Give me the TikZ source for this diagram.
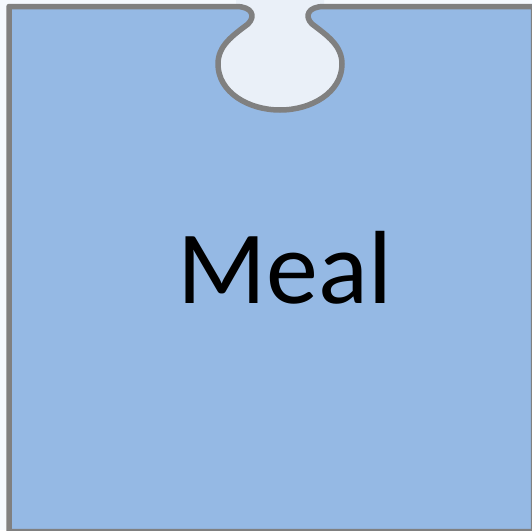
\documentclass[tikz,border=0pt]{standalone}
\usepackage{fontspec}
\setmainfont{Carlito}
\usepackage{xcolor}
\usepackage{tikz}

\definecolor{pieceblue}{RGB}{149,185,228}
\definecolor{edgegray}{RGB}{128,128,128}
\definecolor{holefill}{RGB}{234,240,248}
\definecolor{pagefill}{RGB}{245,249,254}

\begin{document}
\begin{tikzpicture}[
      x=1pt,y=-1pt,
      piece/.style={draw=edgegray,line width=5.5pt,fill=pieceblue,line join=round},
      hole/.style={fill=holefill},
      label/.style={font=\fontsize{104}{114}\selectfont,text=black,anchor=base,inner sep=0pt}
    ]
      \useasboundingbox (0,0) rectangle (532,530);
      \fill[pagefill] (0,0) rectangle (532,530);

      % notch of the puzzle piece
      \fill[hole] (236,0) -- (236,6.5) .. controls (252,6.5) and (256,16) .. (248,24)
        .. controls (232,36) and (218,46) .. (218,64)
        .. controls (218,92) and (248,110) .. (280,110)
        .. controls (312,110) and (342,92) .. (342,64)
        .. controls (342,46) and (328,36) .. (312,24)
        .. controls (304,16) and (308,6.5) .. (324,6.5) -- (324,0) -- cycle;

      % the piece itself
      \draw[piece] (9,531.5) -- (9,6.5) -- (236,6.5)
        .. controls (252,6.5) and (256,16) .. (248,24)
        .. controls (232,36) and (218,46) .. (218,64)
        .. controls (218,92) and (248,110) .. (280,110)
        .. controls (312,110) and (342,92) .. (342,64)
        .. controls (342,46) and (328,36) .. (312,24)
        .. controls (304,16) and (308,6.5) .. (324,6.5)
        -- (533.5,6.5) -- (533.5,531.5) -- cycle;

      \node[label] (meal) at (285,303) {Meal};
    \end{tikzpicture}
\end{document}
